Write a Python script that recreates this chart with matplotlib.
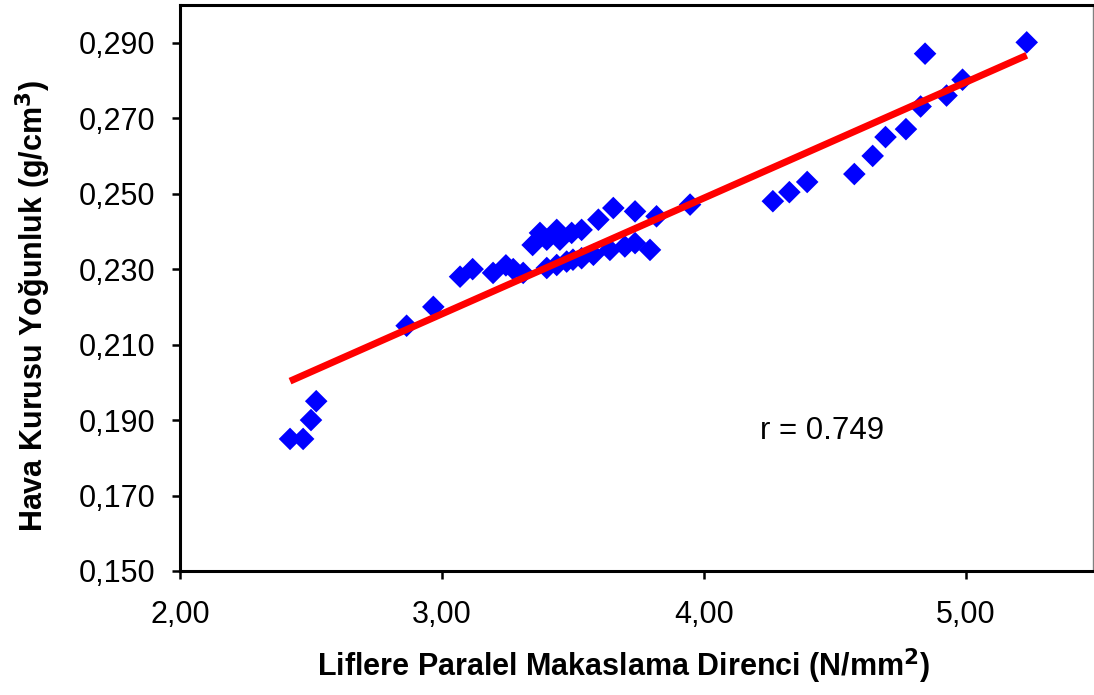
import numpy as np
import matplotlib
matplotlib.use("Agg")
import matplotlib.pyplot as plt
from matplotlib.ticker import FuncFormatter

plt.rcParams['font.family'] = ['Liberation Sans', 'DejaVu Sans']

# Shear strength parallel to grain (N/mm2)
shear = [2.42, 2.47, 2.50, 2.52, 2.865, 2.967, 3.069, 3.117, 3.195, 3.244, 3.272, 3.31,
         3.346, 3.374, 3.40, 3.438, 3.45, 3.495, 3.533,
         3.40, 3.438, 3.476, 3.50, 3.533, 3.578, 3.641, 3.698, 3.737, 3.794,
         3.597, 3.654, 3.737, 3.819, 3.947,
         4.263, 4.326, 4.394, 4.574, 4.644, 4.693, 4.771, 4.827, 4.844, 4.926, 4.987, 5.232]
# Air-dry density (g/cm3)
density = [0.185, 0.185, 0.190, 0.195, 0.215, 0.220, 0.228, 0.230, 0.229, 0.231, 0.230, 0.229,
           0.2364, 0.2396, 0.2378, 0.2404, 0.2378, 0.2396, 0.2404,
           0.2303, 0.2311, 0.232, 0.2325, 0.2329, 0.2338, 0.2351, 0.236, 0.2369, 0.2351,
           0.2431, 0.2462, 0.2453, 0.2440, 0.2471,
           0.248, 0.2504, 0.2531, 0.2552, 0.260, 0.265, 0.2671, 0.2731, 0.2871, 0.2760, 0.2802, 0.2901]

# Trend line (slope, intercept)
trend_slope = 0.03071
trend_intercept = 0.1260
r_text = "r = 0.749"

xticks = [2.0, 3.0, 4.0, 5.0]
yticks = [0.150, 0.170, 0.190, 0.210, 0.230, 0.250, 0.270, 0.290]

W, H = 1094, 695
fig = plt.figure(figsize=(W / 100, H / 100), dpi=100)
ax = fig.add_axes([180 / W, (H - 571) / H, (1093 - 180) / W, (571 - 5) / H])

ax.scatter(shear, density, marker='D', s=11.5 ** 2, color='#0000FF', edgecolors='none', zorder=3)

xs = np.array([min(shear), max(shear)])
ax.plot(xs, trend_slope * xs + trend_intercept, color='#FF0000', lw=5, zorder=4,
        solid_capstyle='butt')

ax.set_xlim(2.0, 5.485)
ax.set_ylim(0.150, 0.300)
ax.set_xticks(xticks)
ax.set_yticks(yticks)
ax.xaxis.set_major_formatter(FuncFormatter(lambda v, p: f"{v:.2f}".replace('.', ',')))
ax.yaxis.set_major_formatter(FuncFormatter(lambda v, p: f"{v:.3f}".replace('.', ',')))

for s in ['left', 'bottom', 'top']:
    ax.spines[s].set_linewidth(2.2)
    ax.spines[s].set_color('black')
ax.spines['right'].set_linewidth(1)
ax.spines['right'].set_color('#808080')

ax.tick_params(direction='out', length=6, width=1.8, labelsize=22)
ax.tick_params(axis='x', pad=15)
ax.tick_params(axis='y', pad=12)

ax.set_xlabel("Liflere Paralel Makaslama Direnci (N/mm$^\\mathbf{2}$)", fontsize=22,
              fontweight='bold', labelpad=12, x=0.486)
ax.set_ylabel("Hava Kurusu Yoğunluk (g/cm$^\\mathbf{3}$)", fontsize=22,
              fontweight='bold', labelpad=18, y=0.468)

ax.text(4.45, 0.187, r_text, fontsize=22.5, ha='center', va='center')

fig.savefig("out.png", dpi=100)
